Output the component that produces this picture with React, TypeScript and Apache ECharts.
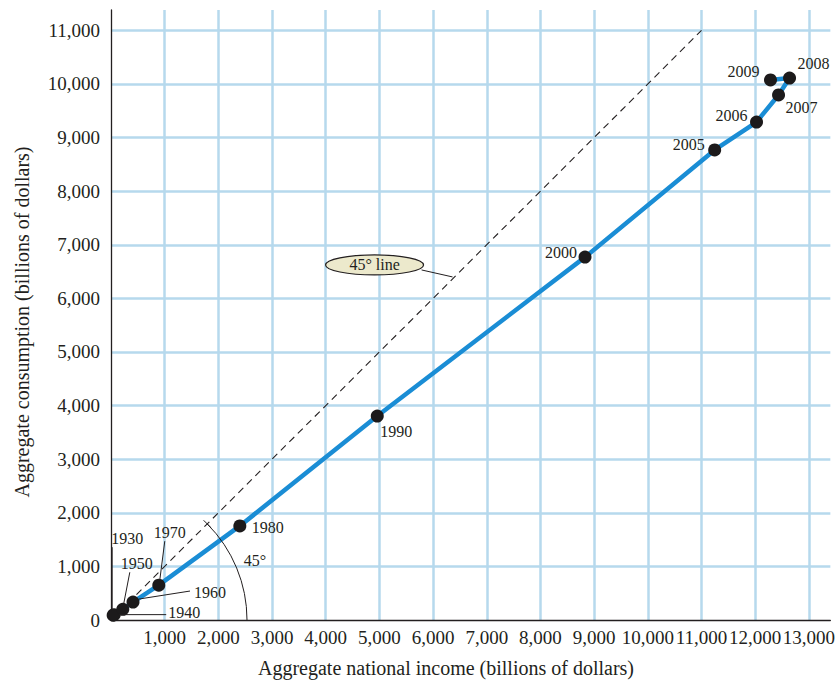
import React, { useEffect, useRef } from "react";
import * as echarts from "echarts";

// ---- data (billions of dollars) ----
const years = ["1930", "1940", "1950", "1960", "1970", "1980", "1990", "2000", "2005", "2006", "2007", "2008", "2009"];
const nationalIncome = [40, 60, 220, 410, 890, 2400, 4960, 8830, 11245, 12025, 12435, 12640, 12285];
const consumption = [90, 100, 200, 335, 650, 1755, 3805, 6770, 8770, 9290, 9795, 10110, 10075];
const diagonalLine = [[0, 0], [11000, 11000]];
const xTitle = "Aggregate national income (billions of dollars)";
const yTitle = "Aggregate consumption (billions of dollars)";

// ---- label placement (pixel offsets from each dot) ----
type LabelSpec = { dx: number; dy: number; leader?: [number, number, number, number] };
const yearLabelLayout: Record<string, LabelSpec> = {
  "1930": { dx: 14, dy: -77, leader: [-1, -68, -1, -5] },
  "1940": { dx: 70, dy: -2, leader: [52, 0, 5, 0] },
  "1950": { dx: 14, dy: -46, leader: [7, -37, 1, -6] },
  "1960": { dx: 77, dy: -10, leader: [57, -11, 6, -3] },
  "1970": { dx: 11, dy: -53, leader: [6, -44, 1, -5] },
  "1980": { dx: 28, dy: 2 },
  "1990": { dx: 19, dy: 15 },
  "2000": { dx: -24, dy: -5 },
  "2005": { dx: -26, dy: -5 },
  "2006": { dx: -25, dy: -7 },
  "2007": { dx: 23, dy: 13 },
  "2008": { dx: 24, dy: -15 },
  "2009": { dx: -27, dy: -8 },
};

const FONT = "'Liberation Serif', 'DejaVu Serif', serif";
const INK = "#231f20";
const DOT = "#1c1a1b";
const BLUE = "#1a8dd5";
const GRID = "#b6d9ed";

const fmt = (v: number) => (v % 1000 === 0 ? v.toLocaleString("en-US") : "");

export default function App() {
  const ref = useRef<HTMLDivElement>(null);

  useEffect(() => {
    if (!ref.current) return;
    const chart = echarts.init(ref.current, undefined, { renderer: "svg" });
    const points = nationalIncome.map((x, i) => [x, consumption[i]]);

    chart.setOption({
      animation: false,
      backgroundColor: "#ffffff",
      grid: { left: 111, top: 10, width: 721, height: 610, containLabel: false },
      xAxis: {
        type: "value",
        min: 0,
        max: 13400,
        interval: 1000,
        axisLine: { show: true, onZero: false, lineStyle: { color: INK, width: 1.3 } },
        axisTick: { show: false },
        axisLabel: {
          formatter: fmt,
          showMinLabel: false,
          showMaxLabel: false,
          margin: 8,
          color: INK,
          fontFamily: FONT,
          fontSize: 19,
        },
        splitLine: { show: true, showMinLine: false, showMaxLine: false, lineStyle: { color: GRID, width: 2.5 } },
      },
      yAxis: {
        type: "value",
        min: 0,
        max: 11380,
        interval: 1000,
        axisLine: { show: true, onZero: false, lineStyle: { color: INK, width: 1.3 } },
        axisTick: { show: false },
        axisLabel: {
          formatter: fmt,
          showMaxLabel: false,
          margin: 11,
          color: INK,
          fontFamily: FONT,
          fontSize: 19,
        },
        splitLine: { show: true, showMinLine: false, showMaxLine: false, lineStyle: { color: GRID, width: 2.5 } },
      },
      series: [
        {
          type: "line",
          data: diagonalLine,
          symbol: "none",
          silent: true,
          z: 1,
          lineStyle: { color: INK, width: 1.1, type: [7, 5] },
        },
        {
          type: "line",
          data: points,
          symbol: "none",
          silent: true,
          z: 2,
          lineStyle: { color: BLUE, width: 4.5 },
        },
        {
          type: "scatter",
          data: points,
          symbolSize: 13,
          silent: true,
          z: 3,
          itemStyle: { color: DOT, opacity: 1 },
        },
      ],
    });

    const px = (v: number[]) => chart.convertToPixel({ gridIndex: 0 }, v) as number[];
    const graphics: any[] = [];

    // year labels
    years.forEach((yr, i) => {
      const [cx, cy] = px([nationalIncome[i], consumption[i]]);
      const spec = yearLabelLayout[yr];
      if (spec.leader) {
        const [x1, y1, x2, y2] = spec.leader;
        graphics.push({
          type: "line",
          z: 10,
          shape: { x1: cx + x1, y1: cy + y1, x2: cx + x2, y2: cy + y2 },
          style: { stroke: INK, lineWidth: 1 },
        });
      }
      graphics.push({
        type: "text",
        z: 10,
        x: cx + spec.dx,
        y: cy + spec.dy,
        style: { text: yr, font: `16px ${FONT}`, fill: INK, align: "center", verticalAlign: "middle" },
      });
    });

    // 45 degree arc at origin
    const [ox, oy] = px([0, 0]);
    const r = 136;
    graphics.push({
      type: "arc",
      z: 10,
      shape: { cx: ox, cy: oy, r, startAngle: -Math.PI / 4, endAngle: 0, clockwise: true },
      style: { stroke: INK, lineWidth: 1, fill: "none" },
    });
    {
      const ax = ox + r * Math.cos(Math.PI / 4);
      const ay = oy - r * Math.sin(Math.PI / 4);
      const t = 5 / Math.SQRT2;
      graphics.push({
        type: "line",
        z: 10,
        shape: { x1: ax - t, y1: ay - t, x2: ax + t, y2: ay + t },
        style: { stroke: INK, lineWidth: 1 },
      });
    }
    graphics.push({
      type: "text",
      z: 10,
      x: ox + 144,
      y: oy - 60,
      style: { text: "45°", font: `16px ${FONT}`, fill: INK, align: "center", verticalAlign: "middle" },
    });

    // "45° line" callout
    const [lx, ly] = px([6400, 6400]);
    graphics.push({
      type: "line",
      z: 10,
      shape: { x1: lx - 33, y1: ly - 7, x2: lx - 2, y2: ly },
      style: { stroke: INK, lineWidth: 1 },
    });
    graphics.push({
      type: "ellipse",
      z: 11,
      shape: { cx: lx - 80, cy: ly - 12, rx: 49, ry: 10 },
      style: { fill: "#ece9cc", stroke: INK, lineWidth: 1.2 },
    });
    graphics.push({
      type: "text",
      z: 12,
      x: lx - 80,
      y: ly - 12,
      style: { text: "45° line", font: `16px ${FONT}`, fill: INK, align: "center", verticalAlign: "middle" },
    });

    // axis titles
    graphics.push({
      type: "text",
      z: 10,
      x: 446,
      y: 668,
      style: { text: xTitle, font: `20px ${FONT}`, fill: INK, align: "center", verticalAlign: "middle" },
    });
    graphics.push({
      type: "text",
      z: 10,
      x: 22,
      y: 322,
      rotation: Math.PI / 2,
      style: { text: yTitle, font: `20px ${FONT}`, fill: INK, align: "center", verticalAlign: "middle" },
    });

    chart.setOption({ graphic: graphics });

    return () => chart.dispose();
  }, []);

  return <div ref={ref} style={{ width: 838, height: 684, position: "absolute", left: 0, top: 0 }} />;
}
